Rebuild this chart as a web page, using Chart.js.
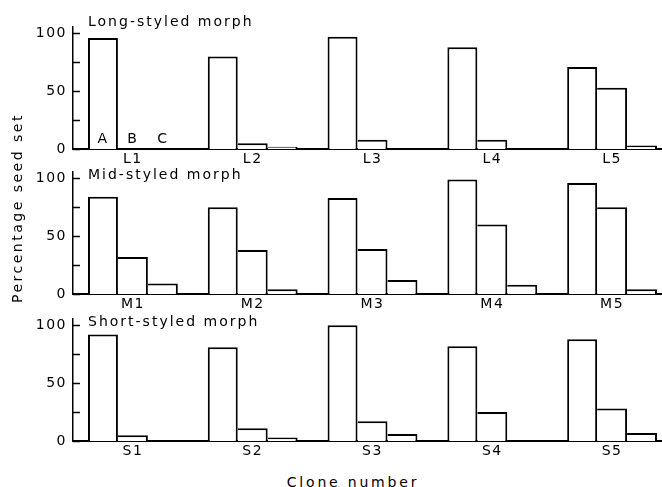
<!DOCTYPE html>
<html>
<head>
<meta charset="utf-8">
<script src="https://cdn.jsdelivr.net/npm/chart.js@4.4.0/dist/chart.umd.min.js"></script>
<style>
    body { margin: 0; background: #fff; width: 662px; height: 487px; overflow: hidden; position: relative; font-family: "DejaVu Sans", sans-serif; }
    canvas { position: absolute; left: 0; }
    .txt { position: absolute; font-size: 14px; line-height: 18px; letter-spacing: 2px; color: #000; white-space: nowrap; }
    .ytitle { left: 17px; top: 208px; transform: translate(-50%, -50%) rotate(-90deg); letter-spacing: 2.5px; }
    .xtitle { left: 353px; top: 482px; transform: translate(-50%, -50%); letter-spacing: 2.8px; }
</style>
</head>
<body>
<canvas id="longChart" width="672" height="157" style="top:12px"></canvas>
<canvas id="midChart" width="672" height="157" style="top:157px"></canvas>
<canvas id="shortChart" width="672" height="157" style="top:304px"></canvas>

<div class="txt" style="left:88px; top:12px">Long-styled morph</div>
<div class="txt" style="left:88px; top:165px">Mid-styled morph</div>
<div class="txt" style="left:88px; top:312px">Short-styled morph</div>
<div class="txt ytitle">Percentage seed set</div>
<div class="txt xtitle">Clone number</div>

<script>
// pollination classes
const seriesNames = ['A', 'B', 'C'];

// Long-styled morph
const longLabels = ['L1', 'L2', 'L3', 'L4', 'L5'];
const longA = [96, 80, 97, 88, 71];
const longB = [0, 5, 8, 8, 53];
const longC = [0, 2, 0, 0, 3];

// Mid-styled morph
const midLabels = ['M1', 'M2', 'M3', 'M4', 'M5'];
const midA = [84, 75, 83, 99, 96];
const midB = [32, 38, 39, 60, 75];
const midC = [9, 4, 12, 8, 4];

// Short-styled morph
const shortLabels = ['S1', 'S2', 'S3', 'S4', 'S5'];
const shortA = [92, 81, 100, 82, 88];
const shortB = [5, 11, 17, 25, 28];
const shortC = [0, 3, 6, 0, 7];

const yTickLabels = [0, 50, 100];
const yMinorTicks = [25, 75];

const fontFamily = '"DejaVu Sans", sans-serif';

// spacing out the lettering a bit, like the original
const letterSpacingPlugin = {
    id: 'letterSpacing',
    beforeDraw(chart) {
        chart.ctx.letterSpacing = '1.5px';
    }
};

// tick marks point into the plot
const inwardTicks = {
    id: 'inwardTicks',
    afterDatasetsDraw(chart) {
        const { ctx, chartArea, scales: { y } } = chart;
        ctx.save();
        ctx.strokeStyle = '#000';
        ctx.lineWidth = 1.5;
        yTickLabels.concat(yMinorTicks).forEach(v => {
            const py = Math.round(y.getPixelForValue(v)) + 0.5;
            ctx.beginPath();
            ctx.moveTo(chartArea.left, py);
            ctx.lineTo(chartArea.left + 7, py);
            ctx.stroke();
        });
        ctx.restore();
    }
};

// A, B, C written inside the first group of the top panel
const classLetters = {
    id: 'classLetters',
    afterDatasetsDraw(chart) {
        if (!chart.options.showLetters) return;
        const { ctx, scales: { y } } = chart;
        ctx.save();
        ctx.fillStyle = '#000';
        ctx.font = '14px ' + fontFamily;
        ctx.textAlign = 'center';
        ctx.textBaseline = 'middle';
        chart.data.datasets.forEach((ds, i) => {
            const bar = chart.getDatasetMeta(i).data[0];
            ctx.fillText(ds.label, bar.x, y.getPixelForValue(0) - 10);
        });
        ctx.restore();
    }
};

// bars in a group touch, so only the first one draws a left edge
function barBorder(c) {
    if (c.raw === 0) return 0;
    return { top: 2, right: 2, bottom: 0, left: c.datasetIndex === 0 ? 2 : 0 };
}

function makePanel(id, labels, a, b, c, showLetters) {
    const values = [a, b, c];
    const ctx = document.getElementById(id).getContext('2d');
    return new Chart(ctx, {
        type: 'bar',
        data: {
            labels: labels,
            datasets: seriesNames.map((name, i) => ({
                label: name,
                data: values[i],
                backgroundColor: '#fff',
                borderColor: '#000',
                borderWidth: barBorder,
                borderSkipped: 'start',
                categoryPercentage: 0.75,
                barPercentage: 1.0,
            }))
        },
        options: {
            responsive: false,
            animation: false,
            devicePixelRatio: 1,
            showLetters: showLetters,
            layout: { padding: { top: 10, left: 0, right: 0, bottom: 0 } },
            plugins: {
                legend: { display: false },
                tooltip: { enabled: false },
            },
            scales: {
                x: {
                    grid: { display: false, drawTicks: false },
                    border: { color: '#000', width: 2 },
                    ticks: {
                        color: '#000',
                        font: { family: fontFamily, size: 14 },
                        padding: 2,
                        maxRotation: 0,
                        autoSkip: false,
                    },
                    afterFit(scale) { scale.height = 20; },
                },
                y: {
                    min: 0,
                    max: 106,
                    grid: { display: false, drawTicks: false },
                    border: { color: '#000', width: 1.5 },
                    ticks: {
                        color: '#000',
                        font: { family: fontFamily, size: 14 },
                        padding: 6,
                    },
                    afterBuildTicks(scale) {
                        scale.ticks = yTickLabels.map(v => ({ value: v }));
                    },
                    afterFit(scale) { scale.width = 73; },
                },
            },
        },
        plugins: [letterSpacingPlugin, inwardTicks, classLetters]
    });
}

makePanel('longChart', longLabels, longA, longB, longC, true);
makePanel('midChart', midLabels, midA, midB, midC, false);
makePanel('shortChart', shortLabels, shortA, shortB, shortC, false);
</script>
</body>
</html>
